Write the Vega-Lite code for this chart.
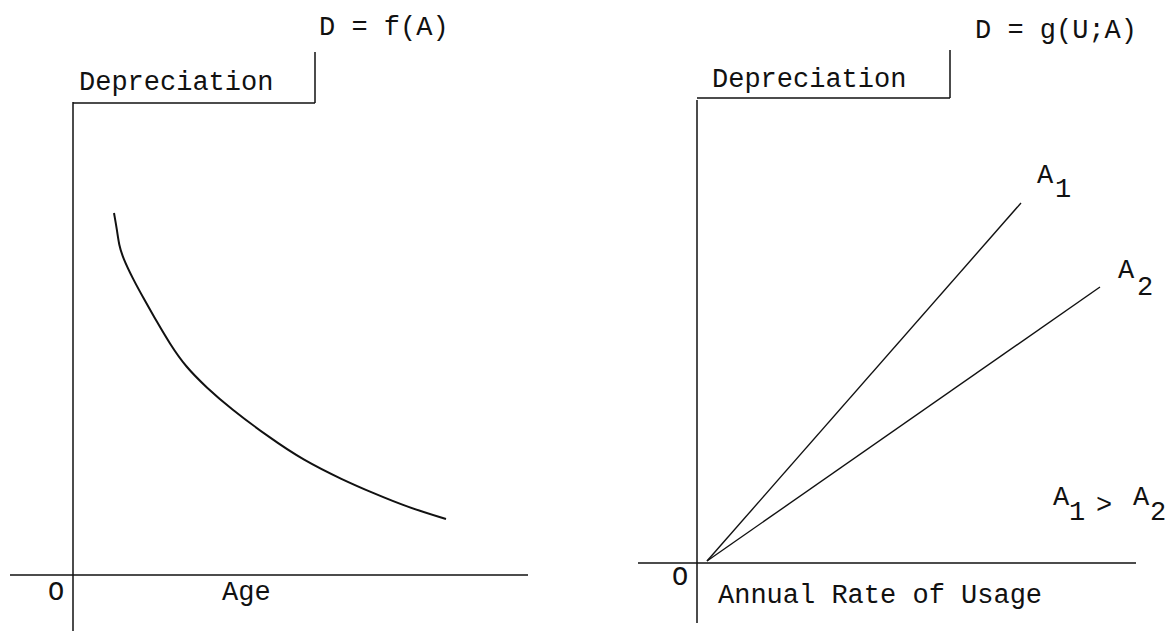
{
  "$schema": "https://vega.github.io/schema/vega-lite/v6.json",
  "background": "white",
  "padding": 0,
  "spacing": 0,
  "config": {"view": {"stroke": null}},
  "hconcat": [
    {
      "width": 583,
      "height": 631,
      "encoding": {
        "x": {"field": "x", "type": "quantitative", "scale": {"domain": [-0.73, 5.10], "nice": false, "zero": false}, "axis": null},
        "y": {"field": "y", "type": "quantitative", "scale": {"domain": [-0.56, 5.75], "nice": false, "zero": false}, "axis": null}
      },
      "layer": [
        {
          "data": {"values": [
            {"x": 0, "y": 4.73, "x2": 0, "y2": -0.56},
            {"x": 0, "y": 4.72, "x2": 2.42, "y2": 4.72},
            {"x": 2.42, "y": 5.23, "x2": 2.42, "y2": 4.72},
            {"x": -0.63, "y": 0, "x2": 4.55, "y2": 0}
          ]},
          "mark": {"type": "rule", "color": "#111111", "strokeWidth": 1.5},
          "encoding": {"x2": {"field": "x2"}, "y2": {"field": "y2"}}
        },
        {
          "data": {"values": [
            {"x": 0.41, "y": 3.62},
            {"x": 0.44, "y": 3.45},
            {"x": 0.46, "y": 3.30},
            {"x": 0.50, "y": 3.17},
            {"x": 0.60, "y": 2.96},
            {"x": 0.71, "y": 2.76},
            {"x": 0.84, "y": 2.53},
            {"x": 0.97, "y": 2.31},
            {"x": 1.12, "y": 2.09},
            {"x": 1.34, "y": 1.87},
            {"x": 1.57, "y": 1.67},
            {"x": 1.97, "y": 1.37},
            {"x": 2.30, "y": 1.15},
            {"x": 2.70, "y": 0.95},
            {"x": 3.00, "y": 0.82},
            {"x": 3.34, "y": 0.68},
            {"x": 3.73, "y": 0.56}
          ]},
          "mark": {"type": "line", "interpolate": "basis", "color": "#111111", "strokeWidth": 2},
          "encoding": {}
        },
        {
          "data": {"values": [
            {"x": 0.06, "y": 4.85, "label": "Depreciation"},
            {"x": 2.46, "y": 5.40, "label": "D = f(A)"},
            {"x": -0.25, "y": -0.25, "label": "O"},
            {"x": 1.49, "y": -0.25, "label": "Age"}
          ]},
          "mark": {"type": "text", "font": "Liberation Mono", "fontSize": 27, "align": "left", "baseline": "alphabetic", "color": "#111111"},
          "encoding": {"text": {"field": "label"}}
        }
      ]
    },
    {
      "width": 584,
      "height": 631,
      "encoding": {
        "x": {"field": "x", "type": "quantitative", "scale": {"domain": [-1.14, 4.70], "nice": false, "zero": false}, "axis": null},
        "y": {"field": "y", "type": "quantitative", "scale": {"domain": [-0.68, 5.63], "nice": false, "zero": false}, "axis": null}
      },
      "layer": [
        {
          "data": {"values": [
            {"x": 0, "y": 4.63, "x2": 0, "y2": -0.60},
            {"x": 0, "y": 4.65, "x2": 2.53, "y2": 4.65},
            {"x": 2.53, "y": 5.13, "x2": 2.53, "y2": 4.65},
            {"x": -0.59, "y": 0, "x2": 4.39, "y2": 0}
          ]},
          "mark": {"type": "rule", "color": "#111111", "strokeWidth": 1.5},
          "encoding": {"x2": {"field": "x2"}, "y2": {"field": "y2"}}
        },
        {
          "data": {"values": [
            {"series": "A1", "x": 0.10, "y": 0.02},
            {"series": "A1", "x": 3.24, "y": 3.60},
            {"series": "A2", "x": 0.10, "y": 0.02},
            {"series": "A2", "x": 4.03, "y": 2.76}
          ]},
          "mark": {"type": "line", "color": "#111111", "strokeWidth": 1.4},
          "encoding": {"detail": {"field": "series"}}
        },
        {
          "data": {"values": [
            {"x": 0.15, "y": 4.76, "label": "Depreciation"},
            {"x": 2.78, "y": 5.25, "label": "D = g(U;A)"},
            {"x": -0.25, "y": -0.22, "label": "O"},
            {"x": 0.21, "y": -0.40, "label": "Annual Rate of Usage"},
            {"x": 3.40, "y": 3.80, "label": "A"},
            {"x": 3.58, "y": 3.66, "label": "1"},
            {"x": 4.21, "y": 2.85, "label": "A"},
            {"x": 4.40, "y": 2.68, "label": "2"},
            {"x": 3.56, "y": 0.58, "label": "A"},
            {"x": 3.72, "y": 0.43, "label": "1"},
            {"x": 3.99, "y": 0.50, "label": ">"},
            {"x": 4.36, "y": 0.58, "label": "A"},
            {"x": 4.53, "y": 0.43, "label": "2"}
          ]},
          "mark": {"type": "text", "font": "Liberation Mono", "fontSize": 27, "align": "left", "baseline": "alphabetic", "color": "#111111"},
          "encoding": {"text": {"field": "label"}}
        }
      ]
    }
  ]
}
